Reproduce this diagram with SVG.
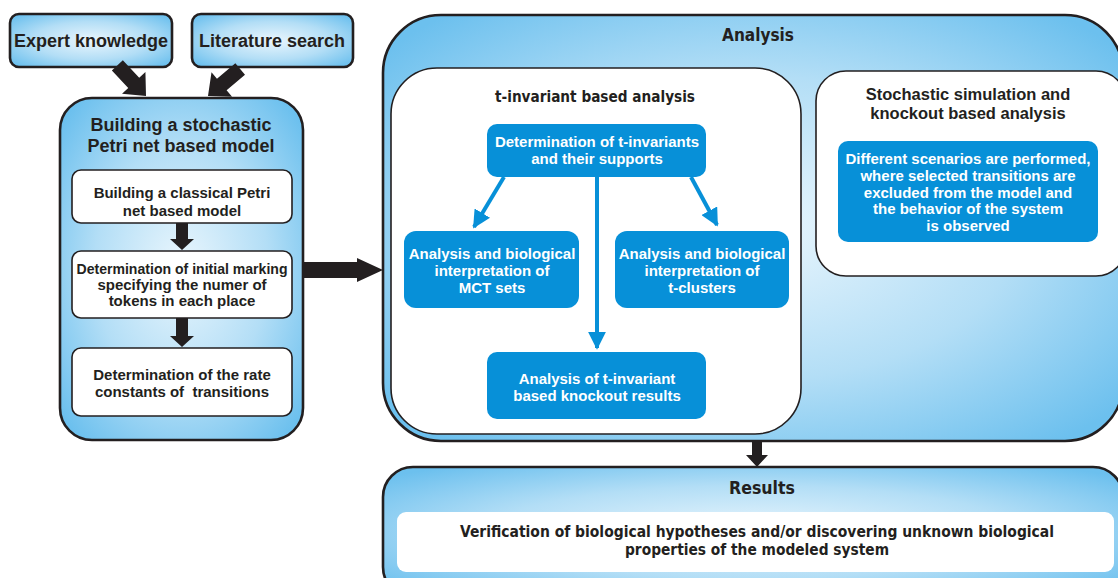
<svg xmlns="http://www.w3.org/2000/svg" width="1118" height="578" viewBox="0 0 1118 578">
  <defs>
    <radialGradient id="sky" cx="50%" cy="50%" r="65%">
      <stop offset="0" stop-color="#eaf6fd"/>
      <stop offset="0.55" stop-color="#b3def6"/>
      <stop offset="1" stop-color="#6cc0ee"/>
    </radialGradient>
    <marker id="blueHead" viewBox="0 0 10 10" refX="9" refY="5" markerWidth="4.5" markerHeight="4.5" orient="auto" markerUnits="strokeWidth">
      <path d="M0,0 L10,5 L0,10 Z" fill="#0790d8"/>
    </marker>
    <!-- block arrow pointing along +x, tip at origin -->
    <path id="blockArrow" d="M-42,-7.5 L-18,-7.5 L-18,-16 L0,0 L-18,16 L-18,7.5 L-42,7.5 Z"/>
  </defs>
  <style>
    .frame { fill: url(#sky); stroke: #231f20; stroke-width: 2.6; }
    .card { fill: #ffffff; stroke: #231f20; stroke-width: 1.6; }
    .plain { fill: #ffffff; }
    .blue { fill: #0790d8; }
    .t { font-family: "Liberation Sans", Arial, sans-serif; font-weight: bold; text-anchor: middle; fill: #231f20; }
    .s { font-size: 15px; }
    .h { font-size: 18px; }
    .w { font-family: "Liberation Sans", Arial, sans-serif; font-weight: bold; text-anchor: middle; fill: #ffffff; font-size: 15px; }
    .n { font-family: "Liberation Sans Narrow", "DejaVu Sans Condensed", "Liberation Sans", Arial, sans-serif; font-weight: bold; text-anchor: middle; fill: #231f20; }
    .blk { fill: #231f20; }
    .bl { stroke: #0790d8; stroke-width: 4; fill: none; marker-end: url(#blueHead); }
  </style>

  <!-- sources -->
  <g id="expert">
    <rect class="frame" x="10" y="14" width="162" height="53" rx="9"/>
    <text class="t h" x="91" y="47">Expert knowledge</text>
  </g>
  <g id="literature">
    <rect class="frame" x="192" y="14" width="161" height="53" rx="9"/>
    <text class="t h" x="272" y="47">Literature search</text>
  </g>

  <!-- model construction -->
  <g id="model">
    <rect class="frame" x="60" y="98" width="243" height="342" rx="32"/>
    <text class="t h" x="181" y="131">Building a stochastic</text>
    <text class="t h" x="181" y="152">Petri net based model</text>
  </g>
  <g id="classical">
    <rect class="card" x="72" y="170" width="220" height="53" rx="9"/>
    <text class="t s" x="182" y="198">Building a classical Petri</text>
    <text class="t s" x="182" y="216">net based model</text>
  </g>
  <g id="marking">
    <rect class="card" x="72" y="251" width="220" height="67" rx="9"/>
    <text class="t s" x="182" y="274" textLength="211" lengthAdjust="spacingAndGlyphs">Determination of initial marking</text>
    <text class="t s" x="182" y="290">specifying the numer of</text>
    <text class="t s" x="182" y="306">tokens in each place</text>
  </g>
  <g id="rates">
    <rect class="card" x="72" y="348" width="220" height="68" rx="9"/>
    <text class="t s" x="182" y="380">Determination of the rate</text>
    <text class="t s" x="182" y="397" xml:space="preserve">constants of  transitions</text>
  </g>

  <!-- analysis -->
  <g id="analysis">
    <rect class="frame" x="383" y="15" width="740" height="426" rx="58"/>
    <text class="n" x="758" y="41" font-size="17" textLength="72" lengthAdjust="spacingAndGlyphs">Analysis</text>
  </g>
  <g id="tinv">
    <rect class="card" x="391" y="68" width="410" height="366" rx="46"/>
    <text class="n" x="595" y="102" font-size="16.5" textLength="200" lengthAdjust="spacingAndGlyphs">t-invariant based analysis</text>
  </g>
  <g id="stochastic">
    <rect class="card" x="816" y="71" width="310" height="205" rx="30"/>
    <text class="t" x="968" y="100" font-size="16.5">Stochastic simulation and</text>
    <text class="t" x="968" y="119" font-size="16.5">knockout based analysis</text>
  </g>
  <g id="scenarios">
    <rect class="blue" x="838" y="141" width="260" height="101" rx="10"/>
    <text class="w" x="968" y="164">Different scenarios are performed,</text>
    <text class="w" x="968" y="181">where selected transitions are</text>
    <text class="w" x="968" y="198">excluded from the model and</text>
    <text class="w" x="968" y="214">the behavior of the system</text>
    <text class="w" x="968" y="231">is observed</text>
  </g>
  <g id="determination">
    <rect class="blue" x="487" y="124" width="219" height="53" rx="10"/>
    <text class="w" x="597" y="147">Determination of t-invariants</text>
    <text class="w" x="597" y="164">and their supports</text>
  </g>
  <g id="mct">
    <rect class="blue" x="404" y="231" width="175" height="77" rx="12"/>
    <text class="w" x="492" y="259">Analysis and biological</text>
    <text class="w" x="492" y="276">interpretation of</text>
    <text class="w" x="492" y="293">MCT sets</text>
  </g>
  <g id="tclusters">
    <rect class="blue" x="615" y="231" width="174" height="77" rx="12"/>
    <text class="w" x="702" y="259">Analysis and biological</text>
    <text class="w" x="702" y="276">interpretation of</text>
    <text class="w" x="702" y="293">t-clusters</text>
  </g>
  <g id="knockout">
    <rect class="blue" x="487" y="352" width="219" height="67" rx="10"/>
    <text class="w" x="597" y="384">Analysis of t-invariant</text>
    <text class="w" x="597" y="401">based knockout results</text>
  </g>

  <!-- results -->
  <g id="results">
    <rect class="frame" x="383" y="467" width="740" height="130" rx="30"/>
    <text class="n" x="762" y="494" font-size="17" textLength="66" lengthAdjust="spacingAndGlyphs">Results</text>
  </g>
  <g id="verification">
    <rect class="plain" x="397" y="512" width="717" height="60" rx="9"/>
    <text class="n" x="757" y="537" font-size="16" textLength="594" lengthAdjust="spacingAndGlyphs">Verification of biological hypotheses and/or discovering unknown biological</text>
    <text class="n" x="757" y="555" font-size="16" textLength="264" lengthAdjust="spacingAndGlyphs">properties of the modeled system</text>
  </g>

  <!-- connectors -->
  <g id="connectors">
    <use href="#blockArrow" class="blk" transform="translate(146,96) rotate(47)"/>
    <use href="#blockArrow" class="blk" transform="translate(208,96) rotate(140)"/>
    <path class="blk" d="M176,223 L188,223 L188,239 L194,239 L182,250 L170,239 L176,239 Z"/>
    <path class="blk" d="M176,318 L188,318 L188,336 L194,336 L182,347 L170,336 L176,336 Z"/>
    <path class="blk" d="M303,262 L357,262 L357,258 L383,270 L357,282 L357,278 L303,278 Z"/>
    <path class="blk" d="M752,441 L762,441 L762,455 L768,455 L757,467 L746,455 L752,455 Z"/>
    <line class="bl" x1="504" y1="177" x2="474" y2="227"/>
    <line class="bl" x1="691" y1="177" x2="717" y2="225"/>
    <line class="bl" x1="597" y1="177" x2="597" y2="348"/>
  </g>
</svg>
